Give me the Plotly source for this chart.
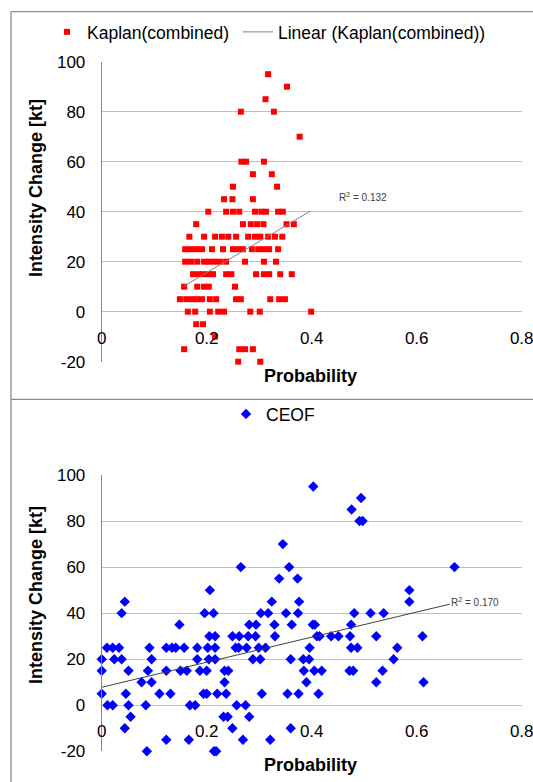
import plotly.graph_objects as go

# ---------------- data ----------------
kaplan_x = [
    0.317, 0.353, 0.312, 0.265, 0.328, 0.377,
    0.266, 0.275, 0.309, 0.288, 0.324, 0.250, 0.334,
    0.233, 0.249, 0.288,
    0.203, 0.237, 0.250, 0.262, 0.292, 0.304, 0.313, 0.336, 0.345,
    0.180, 0.269, 0.284, 0.296, 0.308, 0.352, 0.366,
    0.167, 0.195, 0.216, 0.229, 0.241, 0.256, 0.279, 0.292, 0.302, 0.317, 0.330, 0.344,
    0.159, 0.170, 0.180, 0.191, 0.210, 0.231, 0.250, 0.260, 0.269, 0.286, 0.298, 0.309, 0.319, 0.336,
    0.159, 0.170, 0.182, 0.195, 0.204, 0.214, 0.225, 0.237, 0.273, 0.309, 0.332,
    0.174, 0.184, 0.193, 0.204, 0.212, 0.237, 0.247, 0.294, 0.309, 0.319, 0.340, 0.362,
    0.157, 0.182, 0.195, 0.204, 0.254,
    0.149, 0.161, 0.172, 0.182, 0.191, 0.206, 0.218, 0.256, 0.265, 0.321, 0.338, 0.349,
    0.164, 0.178, 0.206, 0.222, 0.233, 0.283, 0.301, 0.399,
    0.180, 0.193,
    0.216,
    0.157, 0.262, 0.273, 0.288,
    0.260, 0.302,
]
kaplan_y = [
    95, 90, 85, 80, 80, 70,
    60, 60, 60, 55, 55, 50, 50,
    45, 45, 45,
    40, 40, 40, 40, 40, 40, 40, 40, 40,
    35, 35, 35, 35, 35, 35, 35,
    30, 30, 30, 30, 30, 30, 30, 30, 30, 30, 30, 30,
    25, 25, 25, 25, 25, 25, 25, 25, 25, 25, 25, 25, 25, 25,
    20, 20, 20, 20, 20, 20, 20, 20, 20, 20, 20,
    15, 15, 15, 15, 15, 15, 15, 15, 15, 15, 15, 15,
    10, 10, 10, 10, 10,
    5, 5, 5, 5, 5, 5, 5, 5, 5, 5, 5, 5,
    0, 0, 0, 0, 0, 0, 0, 0,
    -5, -5,
    -10,
    -15, -15, -15, -15,
    -20, -20,
]
kaplan_trend_x = [0.155, 0.398]
kaplan_trend_y = [10.0, 40.3]
kaplan_r2 = "R<sup>2</sup> = 0.132"

ceof_x = [
    0.403,
    0.494,
    0.476,
    0.491, 0.497,
    0.345,
    0.265, 0.357, 0.672,
    0.338, 0.373,
    0.206, 0.586,
    0.044, 0.324, 0.376, 0.586,
    0.038, 0.196, 0.213, 0.303, 0.317, 0.351, 0.374, 0.481, 0.512, 0.537,
    0.148, 0.281, 0.294, 0.329, 0.362, 0.402, 0.406, 0.475,
    0.205, 0.216, 0.249, 0.262, 0.279, 0.293, 0.330, 0.410, 0.415, 0.437, 0.451, 0.473, 0.523, 0.611,
    0.010, 0.021, 0.033, 0.091, 0.123, 0.134, 0.141, 0.157, 0.182, 0.202, 0.216, 0.255, 0.261, 0.276,
    0.299, 0.312, 0.396, 0.475, 0.487, 0.563,
    0.000, 0.024, 0.038, 0.095, 0.182, 0.204, 0.216, 0.288, 0.302, 0.360, 0.384, 0.395, 0.556,
    0.000, 0.051, 0.088, 0.123, 0.150, 0.162, 0.187, 0.200, 0.234, 0.241, 0.385, 0.405, 0.419, 0.472,
    0.479, 0.535,
    0.076, 0.095, 0.234, 0.390, 0.523, 0.613,
    0.000, 0.046, 0.110, 0.131, 0.194, 0.200, 0.220, 0.237, 0.305, 0.354, 0.375, 0.413,
    0.011, 0.021, 0.051, 0.084, 0.168, 0.178, 0.257, 0.274,
    0.055, 0.232, 0.240, 0.281,
    0.044, 0.249, 0.360,
    0.123, 0.166, 0.269, 0.321,
    0.086, 0.214, 0.218,
]
ceof_y = [
    95,
    90,
    85,
    80, 80,
    70,
    60, 60, 60,
    55, 55,
    50, 50,
    45, 45, 45, 45,
    40, 40, 40, 40, 40, 40, 40, 40, 40, 40,
    35, 35, 35, 35, 35, 35, 35, 35,
    30, 30, 30, 30, 30, 30, 30, 30, 30, 30, 30, 30, 30, 30,
    25, 25, 25, 25, 25, 25, 25, 25, 25, 25, 25, 25, 25, 25,
    25, 25, 25, 25, 25, 25,
    20, 20, 20, 20, 20, 20, 20, 20, 20, 20, 20, 20, 20,
    15, 15, 15, 15, 15, 15, 15, 15, 15, 15, 15, 15, 15, 15,
    15, 15,
    10, 10, 10, 10, 10, 10,
    5, 5, 5, 5, 5, 5, 5, 5, 5, 5, 5, 5,
    0, 0, 0, 0, 0, 0, 0, 0,
    -5, -5, -5, -5,
    -10, -10, -10,
    -15, -15, -15, -15,
    -20, -20, -20,
]
ceof_trend_x = [0.0, 0.663]
ceof_trend_y = [7.8, 43.9]
ceof_r2 = "R<sup>2</sup> = 0.170"

x_tickvals = [0, 0.2, 0.4, 0.6, 0.8]
x_ticktext = ["0", "0.2", "0.4", "0.6", "0.8"]
y_tickvals = [-20, 0, 20, 40, 60, 80, 100]
y_ticktext = ["-20", "0", "20", "40", "60", "80", "100"]

# ---------------- layout helpers ----------------
W, H = 533, 782
FONT = "Liberation Sans, Arial, sans-serif"


def fx(p):
    return p / W


def fy(p):
    return 1 - p / H


fig = go.Figure()
fig.add_trace(go.Scatter(
    x=kaplan_x, y=kaplan_y, mode="markers", name="Kaplan(combined)",
    marker=dict(symbol="square", size=6, color="#FF0000"),
    xaxis="x", yaxis="y", legend="legend", cliponaxis=False))
fig.add_trace(go.Scatter(
    x=kaplan_trend_x, y=kaplan_trend_y, mode="lines", name="Linear (Kaplan(combined))",
    line=dict(color="#808080", width=1),
    xaxis="x", yaxis="y", legend="legend3"))
fig.add_trace(go.Scatter(
    x=ceof_x, y=ceof_y, mode="markers", name="CEOF",
    marker=dict(symbol="diamond", size=8, color="#0000FF"),
    xaxis="x2", yaxis="y2", legend="legend2", cliponaxis=False))
fig.add_trace(go.Scatter(
    x=ceof_trend_x, y=ceof_trend_y, mode="lines", name="Linear (CEOF)",
    line=dict(color="#404040", width=1), showlegend=False,
    xaxis="x2", yaxis="y2"))

xdom = [fx(101.7), fx(521.7)]
tickfont = dict(size=17, color="#000000", family=FONT)
common_x = dict(range=[0, 0.8], tickvals=x_tickvals, ticktext=x_ticktext,
                showgrid=False, zeroline=False, showline=False, ticks="",
                ticklabelstandoff=14, tickfont=tickfont, automargin=False,
                ticklabeloverflow="allow",
                domain=xdom, anchor="free", fixedrange=True)
common_y = dict(range=[-20, 100], tickvals=y_tickvals, ticktext=y_ticktext,
                showgrid=True, gridcolor="#c0c0c0", gridwidth=1, zeroline=False,
                showline=True, linecolor="#868686", linewidth=1, ticks="",
                ticklabelstandoff=12, tickfont=tickfont, automargin=False,
                ticklabeloverflow="allow", fixedrange=True)

legend_font = dict(size=17.5, family=FONT, color="#000000")
legend_common = dict(orientation="h", xanchor="left", yanchor="middle",
                     font=legend_font, bgcolor="rgba(0,0,0,0)", itemwidth=30)
fig.update_layout(
    width=W, height=H,
    margin=dict(l=0, r=0, t=0, b=0, autoexpand=False),
    paper_bgcolor="white", plot_bgcolor="white",
    font=dict(family=FONT, color="#000000"),
    xaxis=dict(**common_x, position=fy(311.7)),
    yaxis=dict(**common_y, domain=[fy(361.7), fy(61.7)], anchor="x"),
    xaxis2=dict(**common_x, position=fy(705.3)),
    yaxis2=dict(**common_y, domain=[fy(751.3), fy(475.0)], anchor="x2"),
    legend=dict(**legend_common, x=fx(47), y=fy(32)),
    legend3=dict(**legend_common, x=fx(238), y=fy(32)),
    legend2=dict(**legend_common, x=fx(226), y=fy(414)),
    showlegend=True,
)

title_font = dict(size=18, family=FONT, color="#000000", weight="bold")
r2_font = dict(size=10, family=FONT, color="#404040")
annotations = [
    dict(text="Intensity Change [kt]", textangle=-90, x=fx(36), y=fy(188),
         xref="paper", yref="paper", xanchor="center", yanchor="middle",
         showarrow=False, font=title_font),
    dict(text="Intensity Change [kt]", textangle=-90, x=fx(36), y=fy(595),
         xref="paper", yref="paper", xanchor="center", yanchor="middle",
         showarrow=False, font=title_font),
    dict(text="Probability", x=fx(310), y=fy(376), xref="paper", yref="paper",
         xanchor="center", yanchor="middle", showarrow=False, font=title_font),
    dict(text="Probability", x=fx(310), y=fy(765), xref="paper", yref="paper",
         xanchor="center", yanchor="middle", showarrow=False, font=title_font),
    dict(text=kaplan_r2, x=0.498, y=46, xref="x", yref="y", xanchor="center",
         yanchor="middle", showarrow=False, font=r2_font),
    dict(text=ceof_r2, x=0.711, y=45, xref="x2", yref="y2", xanchor="center",
         yanchor="middle", showarrow=False, font=r2_font),
]
fig.update_layout(annotations=annotations)

frame = dict(color="#8c8c8c", width=1.3)
fig.update_layout(shapes=[
    dict(type="line", xref="paper", yref="paper", x0=fx(11), x1=1.0, y0=fy(11.7), y1=fy(11.7), line=frame),
    dict(type="line", xref="paper", yref="paper", x0=fx(11), x1=fx(11), y0=fy(11.7), y1=0, line=frame),
    dict(type="line", xref="paper", yref="paper", x0=fx(11), x1=1.0, y0=fy(399.3), y1=fy(399.3), line=frame),
])

fig.write_html(
    "out.html",
    config={"displayModeBar": False},
    post_script="document.body.style.margin='0';document.body.style.overflow='hidden';",
)
